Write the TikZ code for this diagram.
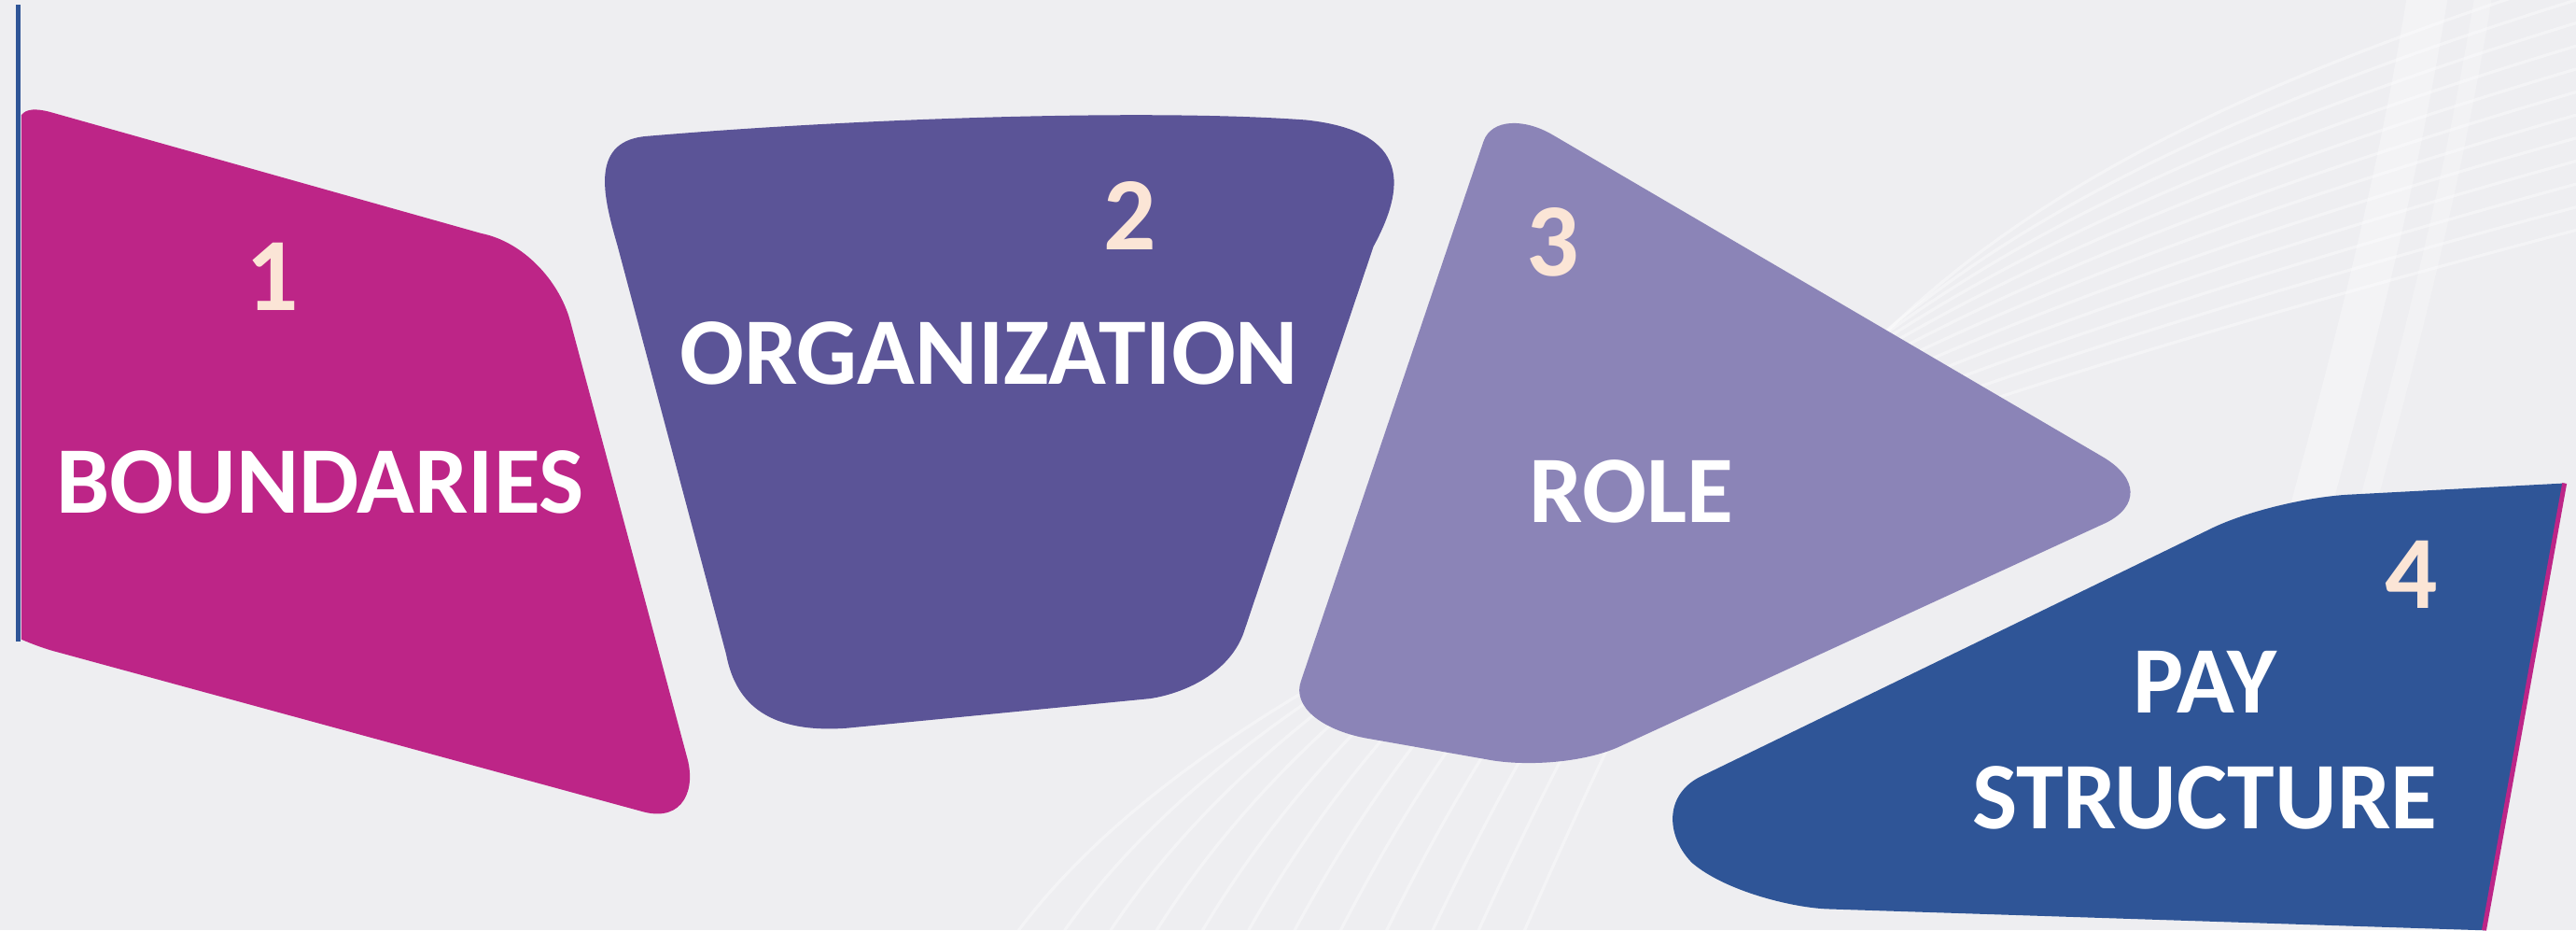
\documentclass[tikz,border=0pt]{standalone}
\usepackage{fontspec}
\setmainfont{Carlito}
\definecolor{bgc}{HTML}{EEEEF1}
\definecolor{magc}{HTML}{BD2587}
\definecolor{orgc}{HTML}{5B5497}
\definecolor{rolec}{HTML}{8B84B7}
\definecolor{payc}{HTML}{2F5597}
\definecolor{digc}{HTML}{FBE5D6}
\tikzset{
  digit/.style={anchor=base, text=digc, font=\fontsize{36}{40}\selectfont\bfseries, inner sep=0pt},
  label/.style={anchor=base, text=white, font=\fontsize{33}{36}\selectfont\bfseries, inner sep=0pt},
  wave/.style={white, opacity=0.4, line width=1pt},
}
\begin{document}
\begin{tikzpicture}[x=0.02cm, y=-0.02cm]
\useasboundingbox (0,0) rectangle (1568,566);
\fill[bgc] (0,0) rectangle (1568,566);
% background white waves
\begin{scope}
\clip (0,0) rectangle (1568,566);
\foreach \k in {0,...,11} {
  \draw[wave] (620+28*\k,566) .. controls (760+28*\k,380-12*\k) and (1150,250-12*\k) .. (1568,140-14*\k);
}
\draw[white, opacity=0.35, line width=14pt, line cap=round] (1478,-5) .. controls (1458,120) and (1428,230) .. (1398,340);
\draw[white, opacity=0.25, line width=6pt] (1512,-5) .. controls (1492,120) and (1462,230) .. (1432,340);
\end{scope}
% shape 1
\fill[magc] (13,70) .. controls (16,66) and (22,66) .. (30,68)
  -- (293,142) .. controls (318,147) and (340,170) .. (347,195)
  -- (418,460) .. controls (424,480) and (416,500) .. (392,494)
  -- (36,397) .. controls (28,395) and (20,392) .. (13,389) -- cycle;
\draw[payc, line width=1.6pt] (11,3) -- (11,390);
% shape 2
\fill[orgc] (392,83) .. controls (520,72) and (700,66) .. (795,73)
  .. controls (860,80) and (855,115) .. (836,150)
  -- (757,385) .. controls (748,410) and (720,422) .. (700,425)
  -- (515,443) .. controls (470,446) and (448,430) .. (442,398)
  -- (376,150) .. controls (368,122) and (358,87) .. (392,83) -- cycle;
% shape 3
\fill[rolec] (903,86) .. controls (908,72) and (928,72) .. (945,82)
  -- (1280,278) .. controls (1302,291) and (1302,308) .. (1282,318)
  -- (984,455) .. controls (960,465) and (925,466) .. (905,462)
  -- (831,449) .. controls (805,444) and (786,430) .. (792,414) -- cycle;
% shape 4
\fill[payc] (1561,294) -- (1428,301) .. controls (1400,303) and (1365,312) .. (1345,322)
  -- (1034,473) .. controls (1012,485) and (1015,510) .. (1030,525)
  .. controls (1050,542) and (1090,552) .. (1112,553) -- (1512,566) -- cycle;
\draw[magc, line width=1.6pt] (1561,294) -- (1512,566);
% texts
\node[digit] (n1) at (166,189) {1};
\node[label] (t1) at (195,312) {BOUNDARIES};
\node[digit] (n2) at (688,152) {2};
\node[label] (t2) at (602,234) {ORGANIZATION};
\node[digit] (n3) at (945,168) {3};
\node[label] (t3) at (993,318) {ROLE};
\node[digit] (n4) at (1468,370) {4};
\node[label] (t4a) at (1342,434) {PAY};
\node[label] (t4b) at (1342,504) {STRUCTURE};
\end{tikzpicture}
\end{document}
